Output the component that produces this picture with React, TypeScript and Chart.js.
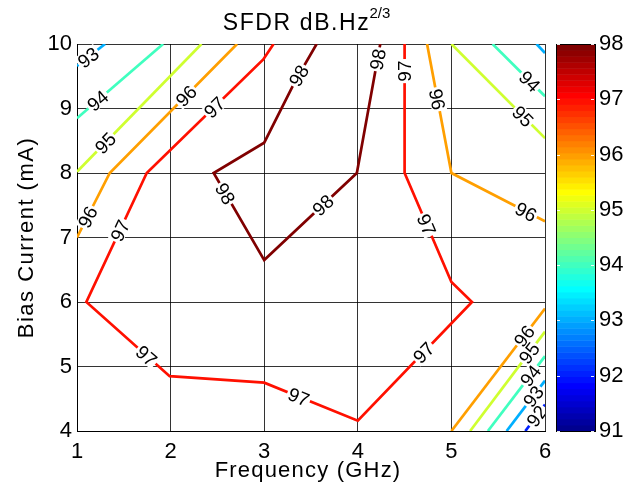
import React, { useEffect, useRef } from 'react';
import { Chart, registerables } from 'chart.js';

Chart.register(...registerables);

// ---------- axis / colour scale ----------
const xTicks = [1, 2, 3, 4, 5, 6];
const yTicks = [4, 5, 6, 7, 8, 9, 10];
const colorTicks = [91, 92, 93, 94, 95, 96, 97, 98];
const colorMin = 91;
const colorMax = 98;
const colorSteps = 64;

// ---------- contour lines (x = GHz, y = mA) ----------
const c93aX = [1.0, 1.3];
const c93aY = [9.66, 10];
const c94aX = [1.0, 1.92];
const c94aY = [8.85, 10];
const c95aX = [1.0, 2.33];
const c95aY = [8.02, 10];
const c96aX = [1.0, 1.35, 2.71];
const c96aY = [7.0, 8.0, 10];
const c97X = [3.1, 2.99, 1.745, 1.1, 1.99, 3.0, 4.0, 5.22, 5.0, 4.5, 4.5];
const c97Y = [10, 9.76, 8.0, 6.0, 4.85, 4.75, 4.16, 6.0, 6.31, 8.0, 10];
const c98X = [3.56, 3.33, 3.0, 2.46, 3.0, 3.99, 4.24];
const c98Y = [10, 9.42, 8.47, 8.0, 6.65, 8.0, 10];
const c96bX = [4.74, 5.0, 6.0];
const c96bY = [10, 8.0, 7.25];
const c95bX = [5.0, 6.0];
const c95bY = [10, 8.54];
const c94bX = [5.44, 6.0];
const c94bY = [10, 9.19];
const c93bX = [5.91, 6.0];
const c93bY = [10, 9.86];
const c96cX = [5.0, 6.0];
const c96cY = [4.0, 5.9];
const c95cX = [5.2, 6.0];
const c95cY = [4.0, 5.54];
const c94cX = [5.39, 6.0];
const c94cY = [4.0, 5.16];
const c93cX = [5.59, 6.0];
const c93cY = [4.0, 4.78];
const c92cX = [5.79, 6.0];
const c92cY = [4.0, 4.41];

// ---------- contour labels ----------
const labelLevel = [93, 94, 95, 96, 96, 97, 97, 98, 98, 98, 97, 96, 94, 95, 96, 98, 97, 97, 97, 97, 96, 95, 94, 93, 92];
const labelX = [1.12, 1.21, 1.32, 1.11, 2.19, 2.46, 1.44, 3.38, 2.56, 4.22, 4.5, 4.84, 5.82, 5.73, 5.79, 3.63, 4.72, 1.745, 3.36, 4.7, 5.79, 5.82, 5.86, 5.89, 5.93];
const labelY = [9.79, 9.14, 8.44, 7.32, 9.16, 9.03, 7.12, 9.5, 7.66, 9.76, 9.58, 9.14, 9.4, 8.83, 7.38, 7.5, 7.19, 5.17, 4.5, 5.22, 5.46, 5.22, 4.84, 4.52, 4.21];

const contours = [
  { level: 93, xs: c93aX, ys: c93aY },
  { level: 94, xs: c94aX, ys: c94aY },
  { level: 95, xs: c95aX, ys: c95aY },
  { level: 96, xs: c96aX, ys: c96aY },
  { level: 97, xs: c97X, ys: c97Y },
  { level: 98, xs: c98X, ys: c98Y },
  { level: 96, xs: c96bX, ys: c96bY },
  { level: 95, xs: c95bX, ys: c95bY },
  { level: 94, xs: c94bX, ys: c94bY },
  { level: 93, xs: c93bX, ys: c93bY },
  { level: 96, xs: c96cX, ys: c96cY },
  { level: 95, xs: c95cX, ys: c95cY },
  { level: 94, xs: c94cX, ys: c94cY },
  { level: 93, xs: c93cX, ys: c93cY },
  { level: 92, xs: c92cX, ys: c92cY },
];

const FONT = "'Liberation Sans', Arial, Helvetica, sans-serif";

// MATLAB jet(64)
function jetRow(row: number): [number, number, number] {
  const n = 16;
  const u = (k: number) => {
    if (k < 1 || k > 47) return 0;
    if (k <= n) return k / n;
    if (k <= 31) return 1;
    return (48 - k) / n;
  };
  return [u(row - 24), u(row - 8), u(row + 8)];
}
function rgb(c: [number, number, number]) {
  return `rgb(${Math.round(c[0] * 255)},${Math.round(c[1] * 255)},${Math.round(c[2] * 255)})`;
}
function levelColor(v: number) {
  let idx = Math.floor(((v - colorMin) / (colorMax - colorMin)) * colorSteps) + 1;
  idx = Math.max(1, Math.min(colorSteps, idx));
  return rgb(jetRow(idx));
}

const labelPlugin = {
  id: 'contourLabels',
  afterDatasetsDraw(chart: any) {
    const { ctx, chartArea } = chart;
    const xs = chart.scales.x;
    const ys = chart.scales.y;
    ctx.save();
    ctx.beginPath();
    ctx.rect(chartArea.left, chartArea.top, chartArea.right - chartArea.left, chartArea.bottom - chartArea.top);
    ctx.clip();
    const size = 19;
    ctx.font = `${size}px ${FONT}`;
    for (let i = 0; i < labelLevel.length; i++) {
      const lv = labelLevel[i];
      const px = xs.getPixelForValue(labelX[i]);
      const py = ys.getPixelForValue(labelY[i]);
      let best: any = null;
      for (const c of contours) {
        if (c.level !== lv) continue;
        for (let j = 0; j < c.xs.length - 1; j++) {
          const ax = xs.getPixelForValue(c.xs[j]);
          const ay = ys.getPixelForValue(c.ys[j]);
          const bx = xs.getPixelForValue(c.xs[j + 1]);
          const by = ys.getPixelForValue(c.ys[j + 1]);
          const dx = bx - ax, dy = by - ay;
          const len2 = dx * dx + dy * dy || 1;
          let t = ((px - ax) * dx + (py - ay) * dy) / len2;
          t = Math.max(0, Math.min(1, t));
          const qx = ax + t * dx, qy = ay + t * dy;
          const d = (qx - px) ** 2 + (qy - py) ** 2;
          if (!best || d < best.d) best = { d, qx, qy, ang: Math.atan2(dy, dx) };
        }
      }
      if (!best) continue;
      let a = best.ang;
      while (a >= Math.PI / 2 - 1e-6) a -= Math.PI;
      while (a < -Math.PI / 2 - 1e-6) a += Math.PI;
      const text = String(lv);
      ctx.save();
      ctx.translate(best.qx, best.qy);
      ctx.rotate(a);
      const w = ctx.measureText(text).width;
      const h = size * 0.8;
      ctx.fillStyle = '#ffffff';
      ctx.fillRect(-w / 2 - 1.5, -h / 2, w + 3, h);
      ctx.fillStyle = '#000000';
      ctx.textAlign = 'center';
      ctx.textBaseline = 'alphabetic';
      ctx.fillText(text, 0, size * 0.36);
      ctx.restore();
    }
    ctx.restore();
  },
};

const decorPlugin = {
  id: 'decor',
  afterDraw(chart: any) {
    const { ctx, chartArea } = chart;
    const y2 = chart.scales.y2;
    // colour bar
    const x0 = chartArea.right + 11;
    const x1 = chartArea.right + 50;
    ctx.save();
    const step = (colorMax - colorMin) / colorSteps;
    for (let i = 0; i < colorSteps; i++) {
      const v0 = colorMin + i * step;
      const yA = y2.getPixelForValue(v0);
      const yB = y2.getPixelForValue(v0 + step);
      ctx.fillStyle = rgb(jetRow(i + 1));
      ctx.fillRect(x0, yB, x1 - x0, yA - yB + 0.5);
    }
    ctx.strokeStyle = '#000';
    ctx.lineWidth = 1;
    const top = y2.getPixelForValue(colorMax);
    const bot = y2.getPixelForValue(colorMin);
    ctx.strokeRect(Math.round(x0) + 0.5, Math.round(top) + 0.5, Math.round(x1 - x0), Math.round(bot - top));
    ctx.strokeStyle = 'rgba(255,255,255,0.9)';
    for (const t of colorTicks) {
      const y = Math.round(y2.getPixelForValue(t)) + 0.5;
      ctx.beginPath();
      ctx.moveTo(x0 + 1, y);
      ctx.lineTo(x0 + 4, y);
      ctx.moveTo(x1 - 4, y);
      ctx.lineTo(x1 - 1, y);
      ctx.stroke();
    }
    // titles
    ctx.fillStyle = '#000';
    ctx.textBaseline = 'alphabetic';
    const cx = (chartArea.left + chartArea.right) / 2 - 4;
    (ctx as any).letterSpacing = '1.6px';
    ctx.font = `23px ${FONT}`;
    const main = 'SFDR dB.Hz';
    const wMain = ctx.measureText(main).width;
    ctx.font = `15px ${FONT}`;
    (ctx as any).letterSpacing = '0px';
    const sup = '2/3';
    const wSup = ctx.measureText(sup).width;
    const startX = cx - (wMain + wSup) / 2;
    ctx.textAlign = 'left';
    ctx.font = `23px ${FONT}`;
    (ctx as any).letterSpacing = '1.6px';
    ctx.fillText(main, startX, 30);
    (ctx as any).letterSpacing = '0px';
    ctx.font = `15px ${FONT}`;
    ctx.fillText(sup, startX + wMain - 1, 18);

    ctx.font = `22px ${FONT}`;
    (ctx as any).letterSpacing = '1.2px';
    ctx.textAlign = 'center';
    ctx.fillText('Frequency (GHz)', cx + 1, 477);
    ctx.save();
    ctx.translate(33, (chartArea.top + chartArea.bottom) / 2);
    ctx.rotate(-Math.PI / 2);
    (ctx as any).letterSpacing = '1.5px';
    ctx.fillText('Bias Current (mA)', 0, 0);
    ctx.restore();
    (ctx as any).letterSpacing = '0px';
    ctx.restore();
  },
};

function zeroPad(s: any) {
  s.paddingTop = 0;
  s.paddingBottom = 0;
  s.paddingLeft = 0;
  s.paddingRight = 0;
}

export default function App() {
  const ref = useRef<HTMLCanvasElement | null>(null);
  useEffect(() => {
    if (!ref.current) return;
    const datasets = contours.map((c) => ({
      label: String(c.level),
      data: c.xs.map((x, i) => ({ x, y: c.ys[i] })),
      showLine: true,
      borderColor: levelColor(c.level),
      backgroundColor: levelColor(c.level),
      borderWidth: 2.7,
      pointRadius: 0,
      fill: false,
      tension: 0,
    }));
    const tickFont = { family: FONT, size: 22 };
    const chart = new Chart(ref.current, {
      type: 'scatter',
      data: { datasets },
      plugins: [labelPlugin, decorPlugin],
      options: {
        animation: false,
        responsive: false,
        devicePixelRatio: 1,
        layout: { padding: { top: 44, left: 0, right: 0, bottom: 0 } },
        plugins: { legend: { display: false }, tooltip: { enabled: false }, title: { display: false } },
        scales: {
          x: {
            type: 'linear',
            min: xTicks[0],
            max: xTicks[xTicks.length - 1],
            afterBuildTicks: (s: any) => { s.ticks = xTicks.map((v) => ({ value: v })); },
            afterFit: (s: any) => { s.height = 55; zeroPad(s); },
            grid: { color: 'rgba(0,0,0,0.8)', lineWidth: 1, drawTicks: false },
            border: { display: true, color: '#000', width: 1 },
            ticks: { color: '#000', font: tickFont, padding: 8, maxRotation: 0 },
          },
          y: {
            type: 'linear',
            min: yTicks[0],
            max: yTicks[yTicks.length - 1],
            afterBuildTicks: (s: any) => { s.ticks = yTicks.map((v) => ({ value: v })); },
            afterFit: (s: any) => { s.width = 77; zeroPad(s); },
            grid: { color: 'rgba(0,0,0,0.8)', lineWidth: 1, drawTicks: false },
            border: { display: true, color: '#000', width: 1 },
            ticks: { color: '#000', font: tickFont, padding: 5 },
          },
          y2: {
            type: 'linear',
            position: 'right',
            min: colorMin,
            max: colorMax,
            afterBuildTicks: (s: any) => { s.ticks = colorTicks.map((v) => ({ value: v })); },
            afterFit: (s: any) => { s.width = 84; zeroPad(s); },
            grid: { display: false, drawTicks: false },
            border: { display: false },
            ticks: { color: '#000', font: tickFont, padding: 54 },
          },
        },
      },
    } as any);
    return () => chart.destroy();
  }, []);
  return (
    <div style={{ position: 'absolute', left: 0, top: 0, width: 629, height: 486, background: '#fff' }}>
      <canvas ref={ref} width={629} height={486} style={{ display: 'block', width: 629, height: 486 }} />
    </div>
  );
}
